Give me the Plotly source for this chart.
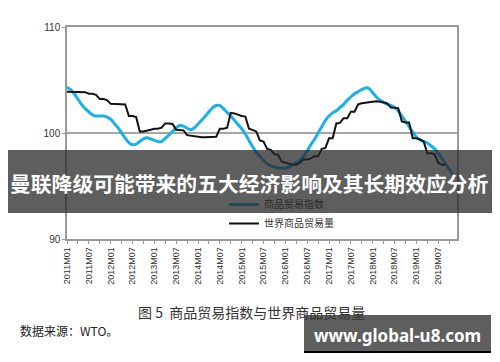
import plotly.graph_objects as go

# ---------------- data ----------------
months = [f"{2011 + i // 12}M{i % 12 + 1:02d}" for i in range(108)]
tick_labels = months[::6][:18]  # 2011M01 ... 2019M07

trade_index = [
    104.3, 104.1, 103.7, 103.2, 102.7, 102.3, 102.0, 101.7, 101.6, 101.6,
    101.6, 101.5, 101.3, 100.9, 100.5, 100.0, 99.5, 99.1, 98.9, 98.95,
    99.2, 99.45, 99.55, 99.45, 99.3, 99.2, 99.2, 99.5, 99.8, 100.15,
    100.5, 100.7, 100.65, 100.45, 100.3, 100.5, 100.85, 101.2, 101.6, 102.0,
    102.4, 102.6, 102.6, 102.3, 101.95, 101.6, 101.2, 100.8, 100.4, 99.9,
    99.3, 98.7, 98.2, 97.8, 97.4, 97.1, 96.9, 96.8, 96.7, 96.7,
    96.7, 96.8, 97.0, 97.2, 97.4, 97.8, 98.3, 98.9, 99.4, 100.0,
    100.6, 101.2, 101.6, 101.9, 102.1, 102.4, 102.7, 103.1, 103.4, 103.7,
    103.9, 104.1, 104.25, 104.2, 103.8, 103.4, 103.1, 102.9, 102.7, 102.6,
    102.4, 102.1, 101.6, 101.1, 100.6, 100.1, 99.6, 99.35, 99.2, 99.05,
    98.8, 98.5, 98.1, 97.6, 97.1, 96.6, 96.1,
]

trade_volume = [
    103.9, 103.9, 103.9, 103.9, 103.85, 103.85, 103.7, 103.7, 103.6, 103.2,
    103.2, 103.1, 102.75, 102.75, 102.75, 102.75, 102.7, 101.6, 101.6, 101.5,
    100.15, 100.15, 100.2, 100.3, 100.4, 100.4, 100.5, 100.9, 100.9, 100.85,
    100.3, 100.3, 100.25, 99.8, 99.75, 99.7, 99.6, 99.6, 99.6, 99.6,
    99.6, 99.65, 100.4, 100.4, 100.5, 101.9, 101.85, 101.7, 101.6, 101.55,
    100.4, 100.3, 100.15, 99.3, 99.2, 98.5, 98.4, 98.0, 97.95, 97.3,
    97.2, 97.1, 97.0, 97.0, 97.2, 97.5, 97.5, 97.6, 97.8, 97.8,
    98.5, 98.6, 99.5, 99.5, 100.9, 100.95, 101.4, 101.4, 102.0, 102.0,
    102.7, 102.8, 102.85, 102.9, 103.0, 103.0, 102.95, 102.9, 102.8, 102.4,
    102.35, 102.35, 101.1, 101.0, 101.0, 99.5, 99.5, 99.4, 99.2, 98.1,
    98.1, 98.0, 97.2, 97.0, 97.0,
]

series_names = ["商品贸易指数", "世界商品贸易量"]
y_ticks = [90, 100, 110]

banner_text = "曼联降级可能带来的五大经济影响及其长期效应分析"
watermark_text = "www.global-u8.com"
caption_text = "图 5  商品贸易指数与世界商品贸易量"
source_text = "数据来源：WTO。"

# ---------------- layout helpers ----------------
OFF = 8                      # page body margin
W, H = 500 - OFF, 362 - OFF  # figure size so the page fills the window
PL, PR, PT, PB = 67, 457, 27, 239  # plot area in window pixels


def px(x):
    return (x - PL) / (PR - PL)


def py(y):
    return (PB - y) / (PB - PT)


BLUE = "#1ab0ea"
fig = go.Figure()

x_blue = list(range(len(trade_index)))
x_black = list(range(len(trade_volume)))

fig.add_trace(go.Scatter(x=x_blue, y=trade_index, mode="lines", name=series_names[0],
                         line=dict(color=BLUE, width=3, shape="spline", smoothing=0.6),
                         showlegend=False))
fig.add_trace(go.Scatter(x=x_black, y=trade_volume, mode="lines", name=series_names[1],
                         line=dict(color="#111111", width=2), showlegend=False))

# legend entries (first one sits under the dark banner, hence darker tones)
fig.add_trace(go.Scatter(x=[None], y=[None], mode="lines",
                         name=f'<span style="color:#2b2b2b">{series_names[0]}</span>',
                         line=dict(color="#244a58", width=3), legend="legend"))
fig.add_trace(go.Scatter(x=[None], y=[None], mode="lines", name=series_names[1],
                         line=dict(color="#111111", width=2), legend="legend2"))

shapes = [
    # banner
    dict(type="rect", xref="paper", yref="paper", x0=px(8), x1=px(492), y0=py(213), y1=py(150),
         fillcolor="rgba(40,40,40,0.75)", line=dict(width=0), layer="above"),
    # watermark box
    dict(type="rect", xref="paper", yref="paper", x0=px(304), x1=px(491), y0=py(352), y1=py(315),
         fillcolor="#5e5e5e", line=dict(width=0), layer="above"),
    dict(type="line", xref="paper", yref="paper", x0=px(304), x1=px(491), y0=py(352), y1=py(352),
         line=dict(color="#000000", width=2), layer="above"),
]

annotations = [
    dict(text=f"<b>{banner_text}</b>", xref="paper", yref="paper", x=px(249), y=py(183),
         showarrow=False, font=dict(family="Noto Sans CJK SC", size=20.8, color="white"),
         xanchor="center", yanchor="middle"),
    dict(text=f"<b>{watermark_text}</b>", xref="paper", yref="paper", x=px(397), y=py(335),
         showarrow=False, font=dict(family="Noto Sans", size=17, color="white"),
         xanchor="center", yanchor="middle"),
    dict(text=caption_text, xref="paper", yref="paper", x=px(251), y=py(312),
         showarrow=False, font=dict(family="Noto Sans CJK SC", size=14, color="#333333"),
         xanchor="center", yanchor="middle"),
    dict(text=source_text, xref="paper", yref="paper", x=px(18), y=py(330),
         showarrow=False, font=dict(family="Noto Sans CJK SC", size=12, color="#222222"),
         xanchor="left", yanchor="middle"),
]

legend_font = dict(family="Noto Sans CJK SC", size=10, color="#333333")
axis_common = dict(showline=True, linecolor="#999999", linewidth=1.5, mirror=True,
                   ticks="outside", ticklen=3, tickcolor="#999999", zeroline=False)

fig.update_layout(
    width=W, height=H,
    margin=dict(l=PL - OFF, r=500 - PR, t=PT - OFF, b=362 - PB, pad=0),
    paper_bgcolor="white", plot_bgcolor="white",
    shapes=shapes, annotations=annotations,
    showlegend=True,
    legend=dict(x=px(224), y=py(190), xanchor="left", yanchor="top",
                bgcolor="rgba(0,0,0,0)", borderwidth=0, font=legend_font),
    legend2=dict(x=px(224), y=py(209), xanchor="left", yanchor="top",
                 bgcolor="rgba(0,0,0,0)", borderwidth=0, font=legend_font),
    xaxis=dict(range=[0, (PR - 68) / 3.63], tickmode="array",
               tickvals=[months.index(t) for t in tick_labels], ticktext=tick_labels,
               tickangle=-90, showgrid=False,
               minor=dict(tick0=0, dtick=3, ticks="outside", ticklen=3, tickcolor="#999999"),
               tickfont=dict(family="Liberation Sans", size=9, color="#333333"),
               **axis_common),
    yaxis=dict(range=[90, 110], tickmode="array", tickvals=y_ticks,
               showgrid=True, gridcolor="#a6a6a6", gridwidth=1.5,
               tickfont=dict(family="Liberation Sans", size=10, color="#333333"),
               **axis_common),
)

fig.write_html("out.html")
